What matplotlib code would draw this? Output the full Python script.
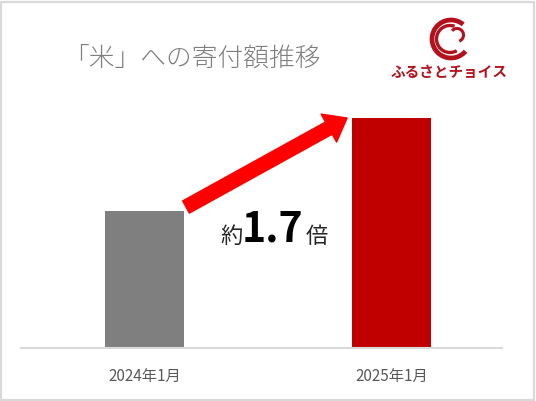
import matplotlib
matplotlib.use("Agg")
import matplotlib.pyplot as plt
from matplotlib.patches import FancyArrowPatch, Arc, Rectangle

plt.rcParams['font.family'] = ['Noto Sans CJK JP', 'DejaVu Sans']

categories = ["2024年1月", "2025年1月"]
values = [100, 168]
bar_colors = ["#7f7f7f", "#c00000"]
title = "「米」への寄付額推移"
ratio_label = "1.7"
logo_text = "ふるさとチョイス"

W, H = 536, 401
fig = plt.figure(figsize=(W / 100, H / 100), dpi=100)
fig.patch.set_facecolor("white")

# outer border
fig.patches.append(Rectangle((1 / W, 1 / H), 1 - 3 / W, 1 - 3 / H, transform=fig.transFigure,
                             fill=False, edgecolor="#d9d9d9", linewidth=1.6))

ax_left, ax_right = 21, 502
ax_bottom, ax_top = 348, 101.6
ax = fig.add_axes([ax_left / W, (H - ax_bottom) / H, (ax_right - ax_left) / W, (ax_bottom - ax_top) / H])
x = [0, 1]
bw = 0.32
ax.bar(x, values, width=bw, color=bar_colors, zorder=2)
ax.set_xlim(-0.5, 1.447)
ax.set_ylim(0, 180)
for s in ["top", "right", "left"]:
    ax.spines[s].set_visible(False)
ax.spines["bottom"].set_color("#d9d9d9")
ax.spines["bottom"].set_linewidth(1.5)
ax.set_yticks([])
ax.set_xticks(x)
ax.set_xticklabels(categories, fontsize=11, color="#595959")
ax.tick_params(axis="x", length=0, pad=14)

# arrow from top of first bar to top of second bar
arrow = FancyArrowPatch((x[0] + bw / 2 + 0.008, values[0] * 1.03), (x[1] - bw / 2 - 0.02, values[1] * 1.0),
                        arrowstyle="simple,head_length=15,head_width=23,tail_width=10",
                        mutation_scale=1, color="#ff0000", shrinkA=0, shrinkB=0, zorder=3)
ax.add_patch(arrow)

# ratio label
fig.text(220 / W, (H - 243) / H, "約", fontsize=16, color="#262626", va="baseline", ha="left")
fig.text(242 / W, (H - 242) / H, ratio_label, fontsize=29.5, fontweight="bold", color="#000000",
         va="baseline", ha="left")
fig.text(306 / W, (H - 243) / H, "倍", fontsize=16, color="#262626", va="baseline", ha="left")

# title
fig.text(63 / W, (H - 65) / H, title, fontsize=18.5, color="#7f7f7f", va="baseline", ha="left",
         fontweight="light")

# logo
logo_color = "#b3121c"
fig.text(449 / W, (H - 77) / H, logo_text, fontsize=10.5, fontweight="bold", color=logo_color,
         va="baseline", ha="center")
lax = fig.add_axes([428 / W, (H - 61) / H, 46 / W, 44 / H])
lax.set_xlim(-23, 23)
lax.set_ylim(-22, 22)
lax.set_aspect("equal")
lax.axis("off")
lax.add_patch(Arc((0, 0), 38, 38, theta1=50, theta2=320, lw=3.4, color=logo_color))
lax.add_patch(Arc((-1, 0), 27, 27, theta1=70, theta2=300, lw=2.4, color=logo_color))
lax.add_patch(Arc((6, 4), 13, 13, theta1=-70, theta2=140, lw=2.2, color=logo_color))

fig.savefig("out.png", dpi=100, facecolor="white")
